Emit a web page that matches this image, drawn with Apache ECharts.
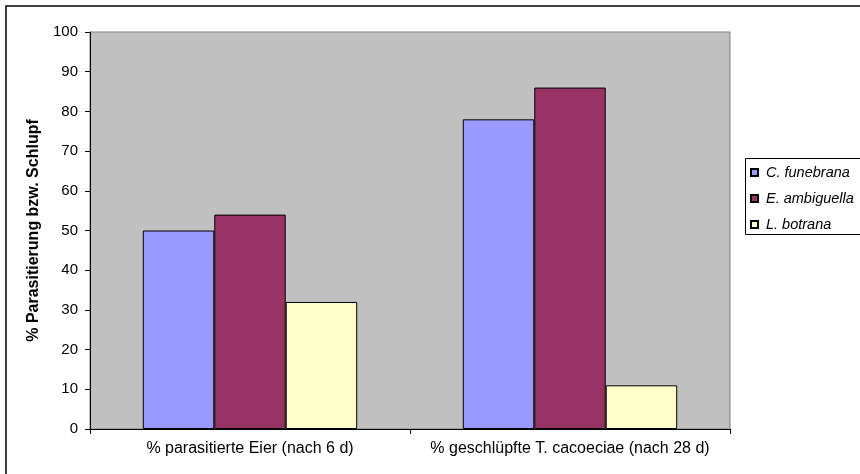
<!DOCTYPE html>
<html>
<head>
<meta charset="utf-8">
<script src="https://cdn.jsdelivr.net/npm/echarts@6/dist/echarts.min.js"></script>
<style>
html,body{margin:0;padding:0;background:#fff;overflow:hidden;}
#c{width:860px;height:474px;}
</style>
</head>
<body>
<div id="c"></div>
<script>
var categories = ['% parasitierte Eier (nach 6 d)', '% geschlüpfte T. cacoeciae (nach 28 d)'];
var seriesNames = ['C. funebrana', 'E. ambiguella', 'L. botrana'];
var funebrana = [50, 78];
var ambiguella = [54, 86];
var botrana = [32, 11];
var colors = ['#9999FF', '#993366', '#FFFFCC'];
var yTitle = '% Parasitierung bzw. Schlupf';

var FONT = '"Liberation Sans", Arial, sans-serif';
var chart = echarts.init(document.getElementById('c'), null, {renderer: 'canvas'});
var values = [funebrana, ambiguella, botrana];
var series = seriesNames.map(function (n, i) {
  return {
    name: n,
    type: 'bar',
    data: values[i],
    barGap: '0%',
    barCategoryGap: '33%',
    itemStyle: {color: colors[i], borderColor: '#000', borderWidth: 1},
    emphasis: {disabled: true}
  };
});
chart.setOption({
  animation: false,
  textStyle: {fontFamily: FONT},
  graphic: [{
    type: 'polyline',
    shape: {points: [[6, 474], [6, 6], [860, 6]]},
    style: {fill: null, stroke: '#000', lineWidth: 1.5},
    z: 100, silent: true
  }, {
    type: 'polyline',
    shape: {points: [[870, 158.5], [745.5, 158.5], [745.5, 234.5], [870, 234.5]]},
    style: {fill: '#fff', stroke: '#000', lineWidth: 1},
    z: 0, silent: true
  }],
  grid: {
    left: 90, top: 32, right: 130, bottom: 45,
    show: true, backgroundColor: '#C0C0C0', borderColor: '#808080', borderWidth: 1
  },
  legend: {
    orient: 'vertical',
    left: 745, top: 158,
    padding: [7, 5, 5, 5],
    itemGap: 11,
    itemWidth: 7, itemHeight: 7,
    icon: 'rect',
    borderWidth: 0,
    z: 10,
    textStyle: {fontFamily: FONT, fontSize: 14.5, fontStyle: 'italic', color: '#000', lineHeight: 14, padding: [0, 0, 0, 3]},
    data: seriesNames
  },
  xAxis: {
    type: 'category',
    data: categories,
    axisLine: {lineStyle: {color: '#000', width: 1}},
    axisTick: {show: true, length: 5, lineStyle: {color: '#000'}},
    axisLabel: {color: '#000', fontSize: 16, fontFamily: FONT, margin: 12, interval: 0}
  },
  yAxis: {
    type: 'value',
    min: 0, max: 100, interval: 10,
    name: yTitle,
    nameLocation: 'middle',
    nameGap: 47,
    nameTextStyle: {color: '#000', fontSize: 16, fontWeight: 'bold', fontFamily: FONT},
    axisLine: {show: true, lineStyle: {color: '#000', width: 1}},
    axisTick: {show: true, length: 5, lineStyle: {color: '#000'}},
    axisLabel: {color: '#000', fontSize: 15, fontFamily: FONT, margin: 12},
    splitLine: {show: false}
  },
  series: series
});
</script>
</body>
</html>
